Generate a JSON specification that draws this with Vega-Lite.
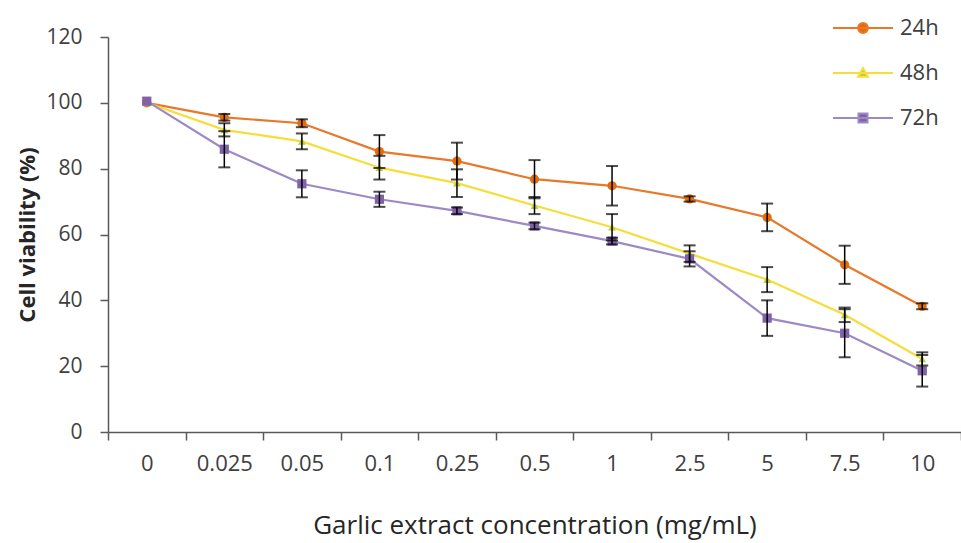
{
  "$schema": "https://vega.github.io/schema/vega-lite/v6.json",
  "autosize": "none",
  "width": 853,
  "height": 395,
  "padding": {"left": 108, "top": 37, "right": 0, "bottom": 111},
  "background": "white",
  "config": {
    "view": {"stroke": null},
    "font": "Open Sans",
    "axis": {"grid": false, "domainColor": "#595959", "tickColor": "#595959", "domainWidth": 1.5, "tickWidth": 1.5, "labelColor": "#404040", "titleColor": "#262626", "labelFont": "Open Sans", "titleFont": "Open Sans"}
  },
  "data": {
    "values": [
      {"c": "0", "s": "24h", "v": 100, "err": 0},
      {"c": "0.025", "s": "24h", "v": 95.6, "err": 1},
      {"c": "0.05", "s": "24h", "v": 93.8, "err": 1.2},
      {"c": "0.1", "s": "24h", "v": 85.2, "err": 5},
      {"c": "0.25", "s": "24h", "v": 82.3, "err": 5.6},
      {"c": "0.5", "s": "24h", "v": 76.8, "err": 5.8},
      {"c": "1", "s": "24h", "v": 74.8, "err": 6},
      {"c": "2.5", "s": "24h", "v": 70.8, "err": 0.8},
      {"c": "5", "s": "24h", "v": 65.2, "err": 4.2},
      {"c": "7.5", "s": "24h", "v": 50.8, "err": 5.8},
      {"c": "10", "s": "24h", "v": 38.2, "err": 0.9},
      {"c": "0", "s": "48h", "v": 100, "err": 0},
      {"c": "0.025", "s": "48h", "v": 91.8, "err": 2},
      {"c": "0.05", "s": "48h", "v": 88.3, "err": 2.4},
      {"c": "0.1", "s": "48h", "v": 80.3, "err": 3.6},
      {"c": "0.25", "s": "48h", "v": 75.6, "err": 4.2},
      {"c": "0.5", "s": "48h", "v": 68.8, "err": 2.6},
      {"c": "1", "s": "48h", "v": 62.2, "err": 4},
      {"c": "2.5", "s": "48h", "v": 54.2, "err": 2.5},
      {"c": "5", "s": "48h", "v": 46.3, "err": 3.8},
      {"c": "7.5", "s": "48h", "v": 35.6, "err": 2.2},
      {"c": "10", "s": "48h", "v": 22.2, "err": 2},
      {"c": "0", "s": "72h", "v": 100.5, "err": 0},
      {"c": "0.025", "s": "72h", "v": 85.9, "err": 5.5},
      {"c": "0.05", "s": "72h", "v": 75.4, "err": 4.1},
      {"c": "0.1", "s": "72h", "v": 70.7, "err": 2.3},
      {"c": "0.25", "s": "72h", "v": 67.2, "err": 1},
      {"c": "0.5", "s": "72h", "v": 62.6, "err": 1},
      {"c": "1", "s": "72h", "v": 58.0, "err": 1},
      {"c": "2.5", "s": "72h", "v": 52.6, "err": 2.3},
      {"c": "5", "s": "72h", "v": 34.6, "err": 5.4},
      {"c": "7.5", "s": "72h", "v": 30.0, "err": 7.3},
      {"c": "10", "s": "72h", "v": 18.6, "err": 4.8}
    ]
  },
  "encoding": {
    "x": {
      "field": "c", "type": "nominal",
      "scale": {"domain": ["0", "0.025", "0.05", "0.1", "0.25", "0.5", "1", "2.5", "5", "7.5", "10"], "paddingInner": 0, "paddingOuter": 0},
      "axis": {"title": "Garlic extract concentration (mg/mL)", "labelAngle": 0, "tickBand": "extent", "tickSize": 8, "labelPadding": 13, "labelFontSize": 22, "titleFontSize": 26, "titleFontWeight": "normal", "titlePadding": 38}
    },
    "y": {
      "field": "v", "type": "quantitative",
      "scale": {"domain": [0, 120]},
      "axis": {"title": "Cell viability (%)", "values": [0, 20, 40, 60, 80, 100, 120], "tickSize": 8, "labelPadding": 18, "labelFontSize": 21, "titleFontSize": 22, "titleFontWeight": "bold", "titlePadding": 6}
    }
  },
  "layer": [
    {
      "mark": {"type": "line", "strokeWidth": 2.2},
      "encoding": {
        "color": {
          "field": "s", "type": "nominal",
          "scale": {"domain": ["24h", "48h", "72h"], "range": ["#E8782A", "#F6DD3A", "#9C8AC6"]},
          "legend": {
            "title": null, "orient": "none", "legendX": 739, "legendY": -25, "padding": 0,
            "symbolSize": 900, "rowPadding": 18, "labelOffset": 21, "labelFontSize": 22, "labelColor": "#404040", "labelFont": "Open Sans",
            "symbolStrokeWidth": 2,
            "encode": {
              "symbols": {
                "update": {
                  "shape": {"signal": "datum.value === '24h' ? 'M-2,0L2,0M0.33,0A0.33,0.33,0,1,1,-0.33,0A0.33,0.33,0,1,1,0.33,0Z' : datum.value === '48h' ? 'M-2,0L2,0M0,-0.33L0.33,0.25L-0.33,0.25Z' : 'M-2,0L2,0M-0.3,-0.3L0.3,-0.3L0.3,0.3L-0.3,0.3Z'"},
                  "fill": {"signal": "datum.value === '24h' ? '#E46C0A' : datum.value === '48h' ? '#B5CF32' : '#7F62A8'"},
                  "stroke": {"signal": "datum.value === '24h' ? '#E8782A' : datum.value === '48h' ? '#F6DD3A' : '#9C8AC6'"},
                  "strokeWidth": {"value": 2},
                  "size": {"value": 900},
                  "opacity": {"value": 1}
                }
              }
            }
          }
        }
      }
    },
    {
      "transform": [{"filter": "datum.s === '24h'"}],
      "mark": {"type": "point", "filled": true, "opacity": 1, "shape": "circle", "color": "#E46C0A", "size": 85}
    },
    {
      "transform": [{"filter": "datum.s === '48h'"}],
      "mark": {"type": "point", "filled": true, "opacity": 1, "shape": "triangle-up", "color": "#B5CF32", "size": 60}
    },
    {
      "transform": [{"filter": "datum.s === '72h'"}],
      "mark": {"type": "point", "filled": true, "opacity": 1, "shape": "square", "color": "#7F62A8", "size": 85}
    },
    {
      "transform": [{"filter": "datum.err > 0"}],
      "mark": {"type": "errorbar", "color": "black", "ticks": {"size": 12, "thickness": 2, "color": "black"}, "rule": {"strokeWidth": 1.5, "color": "black"}},
      "encoding": {
        "y": {"field": "v", "type": "quantitative", "title": "Cell viability (%)"},
        "yError": {"field": "err"}
      }
    }
  ]
}
